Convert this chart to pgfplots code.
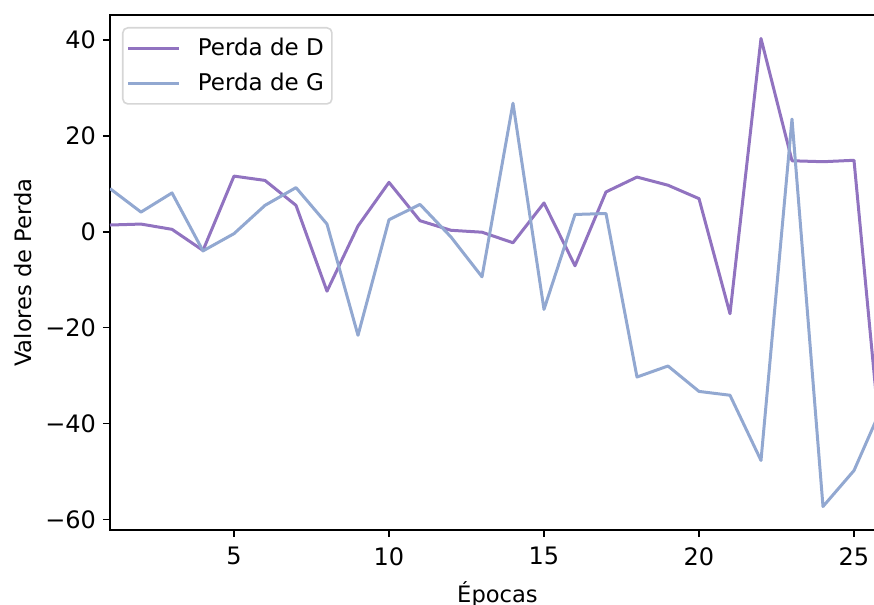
\documentclass[border=0pt]{standalone}
\usepackage{fontspec}
\setmainfont{DejaVu Sans}
\usepackage{pgfplots}
\pgfplotsset{compat=1.18}
\usepackage{pgfplotstable}

\definecolor{lossD}{RGB}{145,115,192}
\definecolor{lossG}{RGB}{146,168,209}

% epoch, discriminator loss, generator loss
\pgfplotstableread{
epoch  D      G
1      1.4    9.0
2      1.6    4.1
3      0.5    8.1
4     -3.9   -4.0
5     11.6   -0.4
6     10.7    5.5
7      5.5    9.2
8    -12.4    1.6
9      1.2  -21.6
10    10.3    2.5
11     2.3    5.7
12     0.3   -1.1
13    -0.1   -9.4
14    -2.3   26.8
15     6.0  -16.2
16    -7.1    3.6
17     8.3    3.8
18    11.4  -30.3
19     9.7  -28.0
20     6.9  -33.3
21   -17.1  -34.1
22    40.3  -47.7
23    14.8   23.5
24    14.6  -57.3
25    14.9  -49.8
26   -53.7  -35.1
}\losses

\begin{document}
\begin{tikzpicture}
\begin{axis}[
  scale only axis,
  width=387.5pt, height=257.5pt,
  xmin=1, xmax=26,
  ymin=-62.2, ymax=45.2,
  xtick={5,10,15,20,25},
  ytick={-60,-40,-20,0,20,40},
  yticklabels={−60,−40,−20,0,20,40},
  /pgf/number format/assume math mode=true,
  tick align=outside,
  major tick length=3.5pt,
  tick style={line width=0.8pt, black},
  axis line style={line width=0.8pt},
  xtick pos=bottom, ytick pos=left,
  ticklabel style={font=\fontsize{12}{14}\selectfont},
  xticklabel style={yshift=-1.7pt},
  yticklabel style={xshift=0pt},
  label style={font=\fontsize{11.3}{13}\selectfont},
  xlabel={Épocas},
  ylabel={Valores de Perda},
  xlabel style={at={(axis description cs:0.5,0)}, anchor=center, yshift=-32pt},
  ylabel style={at={(axis description cs:-0.1123,0.5)}, anchor=center, rotate=0},
  legend cell align=left,
  legend image code/.code={\draw[#1] (0pt,0pt) -- (25.5pt,0pt);},
  legend style={
    at={(0,1)}, anchor=north west, xshift=6pt, yshift=-6pt,
    draw=black!16, line width=0.8pt, rounded corners=2.5pt,
    fill=white, fill opacity=0.8, text opacity=1,
    inner xsep=2pt, inner ysep=2.9pt, row sep=2.8pt,
    nodes={inner sep=2pt, text depth=0.2em},
    /tikz/every odd column/.append style={column sep=6.5pt},
    font=\fontsize{11.5}{13.5}\selectfont,
  },
]
\addplot[lossD, line width=1.5pt, line join=round] table[x=epoch, y=D] {\losses};
\addlegendentry{Perda de D}
\addplot[lossG, line width=1.5pt, line join=round] table[x=epoch, y=G] {\losses};
\addlegendentry{Perda de G}
\end{axis}
\pgfresetboundingbox
\useasboundingbox (-55pt,-37.5pt) rectangle (382pt,265pt);
\end{tikzpicture}
\end{document}
